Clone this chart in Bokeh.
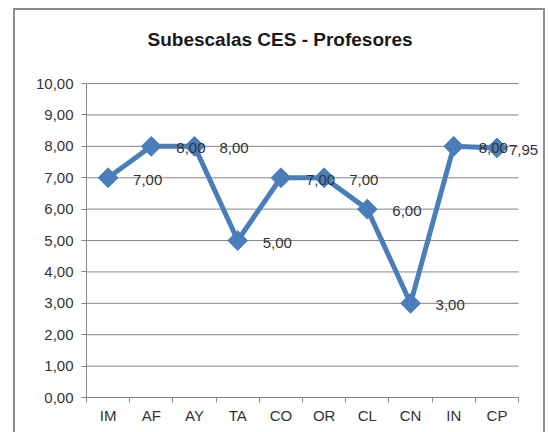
import numpy as np
from bokeh.plotting import figure
from bokeh.models import Range1d, FixedTicker, ColumnDataSource, LabelSet, Label
from bokeh.embed import file_html
from bokeh.resources import INLINE
from bokeh.core.properties import value

# ---- data ----
categories = ["IM", "AF", "AY", "TA", "CO", "OR", "CL", "CN", "IN", "CP"]
scores = [7.00, 8.00, 8.00, 5.00, 7.00, 7.00, 6.00, 3.00, 8.00, 7.95]
y_ticks = [0, 1, 2, 3, 4, 5, 6, 7, 8, 9, 10]
title_text = "Subescalas  CES - Profesores"


def fmt(v):
    return f"{v:.2f}".replace(".", ",")


n = len(categories)
y_max = y_ticks[-1]
# category centres on a numeric axis so ticks can sit between categories
x_pos = [i + 0.5 for i in range(n)]
boundaries = list(range(n + 1))

# label x offsets (style): the last label is pushed left to stay in the chart
label_dx = [25] * (n - 1) + [12]

src = ColumnDataSource(dict(
    x=x_pos,
    y=scores,
    lab=[fmt(v) for v in scores],
    dx=label_dx,
))
grid_src = ColumnDataSource(dict(
    x0=[0] * len(y_ticks), x1=[n] * len(y_ticks), y=y_ticks,
))

FONT = "Liberation Sans"
GRID = "#868686"
TXT = "#333333"
BLUE = "#4A7EBB"

# plot area extended to the right/top (beyond the axes' bounds) so the
# title and the last data label can be drawn inside it
p = figure(
    width=532, height=424,
    x_range=Range1d(0, n + 0.6),
    y_range=Range1d(0, y_max + 2.2),
    output_backend="svg", toolbar_location=None,
    min_border_left=71, min_border_right=3,
    min_border_top=4, min_border_bottom=37,
)
p.margin = (8, 0, 0, 13)
p.styles = {"border-style": "solid", "border-color": "#8c8c8c",
            "border-width": "2px 2px 0px 2px", "box-sizing": "border-box"}
p.outline_line_color = None
p.background_fill_color = "white"
p.border_fill_color = "white"

# y axis
p.yaxis.bounds = (0, y_max)
p.yaxis.ticker = FixedTicker(ticks=y_ticks)
p.yaxis.major_label_overrides = {t: fmt(t) for t in y_ticks}
p.yaxis.major_tick_out = 5
p.yaxis.major_tick_in = 0
p.yaxis.minor_tick_out = 0
p.yaxis.minor_tick_in = 0
p.yaxis.axis_line_color = GRID
p.yaxis.major_tick_line_color = GRID
p.yaxis.major_label_standoff = 8
p.yaxis.major_label_text_font = FONT
p.yaxis.major_label_text_font_size = "15px"
p.yaxis.major_label_text_color = TXT

# x axis
p.xaxis.bounds = (0, n)
p.xaxis.ticker = FixedTicker(ticks=x_pos, minor_ticks=boundaries)
p.xaxis.major_label_overrides = {xp: c for xp, c in zip(x_pos, categories)}
p.xaxis.major_tick_out = 0
p.xaxis.major_tick_in = 0
p.xaxis.minor_tick_out = 5
p.xaxis.minor_tick_in = 0
p.xaxis.minor_tick_line_color = GRID
p.xaxis.axis_line_color = GRID
p.xaxis.major_label_standoff = 4
p.xaxis.major_label_text_font = FONT
p.xaxis.major_label_text_font_size = "15px"
p.xaxis.major_label_text_color = TXT

p.xgrid.visible = False
p.ygrid.visible = False
# horizontal gridlines limited to the category span
p.segment(x0="x0", y0="y", x1="x1", y1="y", source=grid_src,
          line_color=GRID, line_width=1)

p.line("x", "y", source=src, line_width=5, line_color=BLUE, line_join="round")
p.scatter("x", "y", source=src, marker="square", angle=np.pi / 4, size=14,
          fill_color=BLUE, line_color=BLUE)
labels = LabelSet(x="x", y="y", text="lab", source=src, x_offset="dx", y_offset=-2,
                  text_align="left", text_baseline="middle",
                  text_font=value(FONT), text_font_size="15px", text_color=TXT)
p.add_layout(labels)

title = Label(x=n * 0.454, y=y_max + 1.41, text=title_text,
              text_align="center", text_baseline="middle",
              text_font=FONT, text_font_size="19px", text_font_style="bold",
              text_color="#1a1a1a")
p.add_layout(title)

open("out.html", "w").write(file_html(p, INLINE))
